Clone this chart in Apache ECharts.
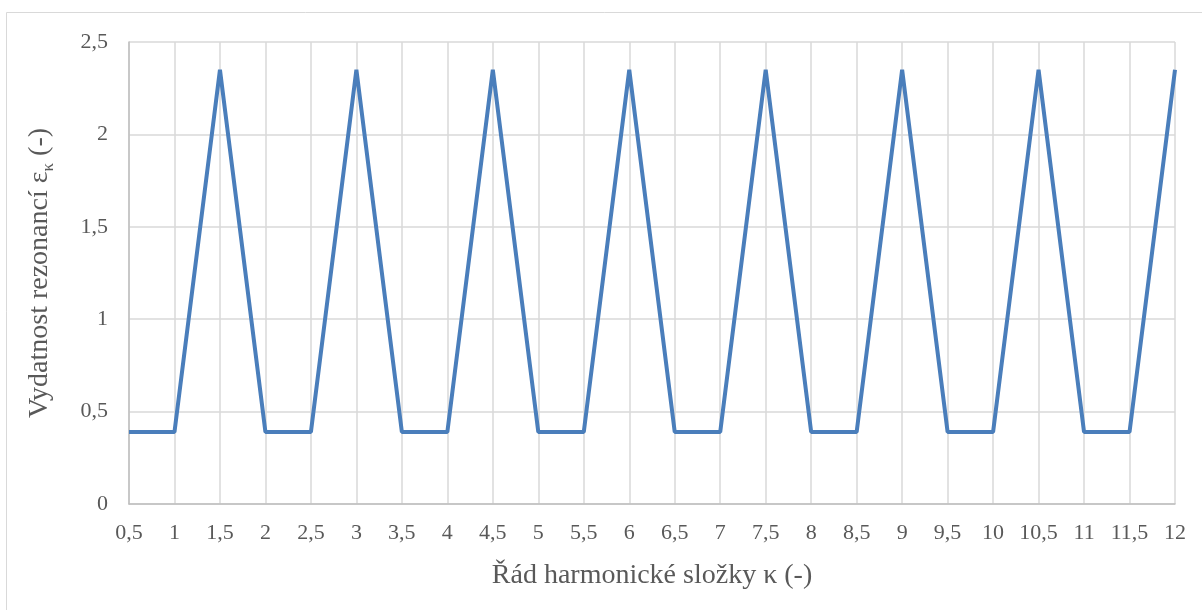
<!DOCTYPE html>
<html>
<head>
<meta charset="utf-8">
<script src="https://cdn.jsdelivr.net/npm/echarts@6/dist/echarts.min.js"></script>
<style>html,body{margin:0;padding:0;background:#fff;}#c{width:1202px;height:610px;}</style>
</head>
<body>
<div id="c"></div>
<script>
var categories = ['0,5','1','1,5','2','2,5','3','3,5','4','4,5','5','5,5','6','6,5','7','7,5','8','8,5','9','9,5','10','10,5','11','11,5','12'];
var values = [0.39,0.39,2.35,0.39,0.39,2.35,0.39,0.39,2.35,0.39,0.39,2.35,0.39,0.39,2.35,0.39,0.39,2.35,0.39,0.39,2.35,0.39,0.39,2.35];
var yTicks = {min:0, max:2.5, interval:0.5};

var chart = echarts.init(document.getElementById('c'), null, {renderer:'canvas'});
var font = 'Liberation Serif';
chart.setOption({
  animation:false,
  backgroundColor:'#fff',
  graphic:[{type:'rect', shape:{x:6.5,y:12.5,width:1400,height:800}, style:{fill:'none', stroke:'#d9d9d9', lineWidth:1}, silent:true}],
  grid:{left:129, right:27, top:42, bottom:106},
  xAxis:{
    type:'category', data:categories, boundaryGap:false,
    axisLine:{lineStyle:{color:'#bfbfbf', width:1.5}},
    axisTick:{show:false},
    axisLabel:{interval:0, color:'#595959', fontFamily:font, fontSize:22, margin:18},
    splitLine:{show:true, lineStyle:{color:'#d9d9d9', width:1.5}},
    name:'Řád harmonické složky κ (-)', nameLocation:'middle', nameGap:58,
    nameTextStyle:{color:'#595959', fontFamily:font, fontSize:28}
  },
  yAxis:{
    type:'value', min:yTicks.min, max:yTicks.max, interval:yTicks.interval,
    axisLine:{show:true, lineStyle:{color:'#bfbfbf', width:1.5}},
    axisTick:{show:false},
    axisLabel:{color:'#595959', fontFamily:font, fontSize:22, margin:21,
      formatter:function(v){return String(v).replace('.',',');}},
    splitLine:{show:true, lineStyle:{color:'#d9d9d9', width:1.5}},
    name:'Vydatnost rezonancí ε{sub|κ} (-)', nameLocation:'middle', nameGap:72,
    nameTextStyle:{color:'#595959', fontFamily:font, fontSize:28, lineHeight:34,
      rich:{sub:{fontFamily:font, fontSize:17, lineHeight:17, verticalAlign:'bottom', color:'#595959'}}}
  },
  series:[{type:'line', data:values, symbol:'none', lineStyle:{color:'#4a7ebb', width:4}, itemStyle:{color:'#4a7ebb'}}]
});
</script>
</body>
</html>
